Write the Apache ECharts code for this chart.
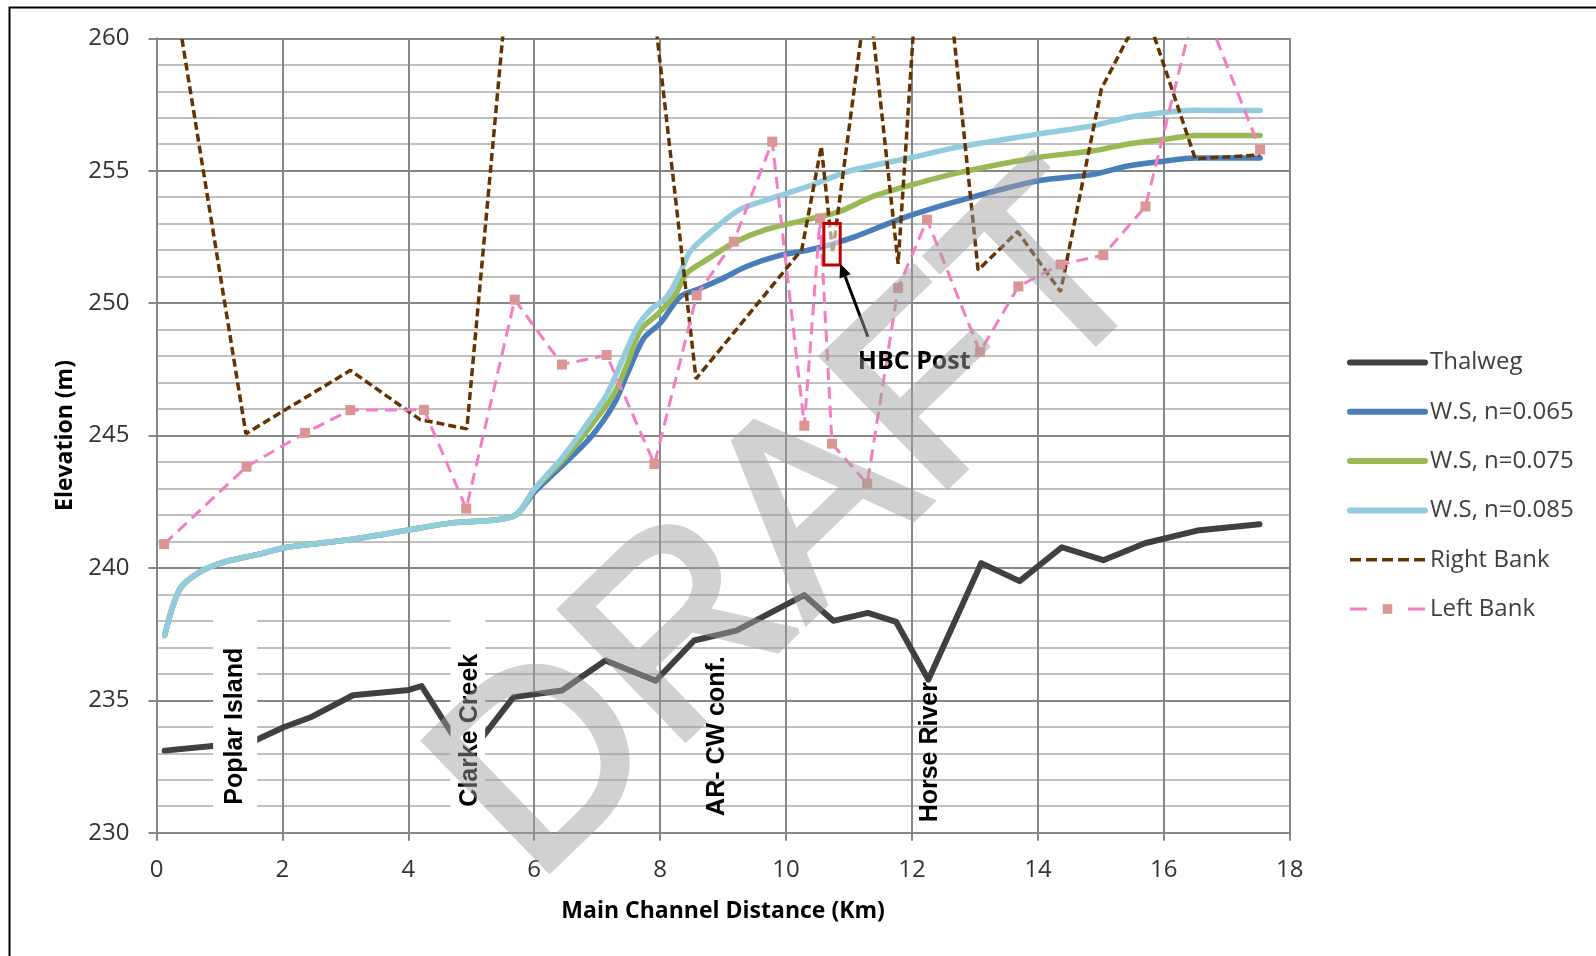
<!DOCTYPE html>
<html>
<head>
<meta charset="utf-8">
<title>Main channel profile</title>
<script src="https://cdn.jsdelivr.net/npm/echarts@6/dist/echarts.min.js"></script>
<style>
  html, body { margin: 0; padding: 0; background: #ffffff; }
  #chart { width: 1596px; height: 956px; }
  /* the watermark lives on its own canvas layer (zlevel 1) and is faded as a whole */
  #chart canvas[data-zr-dom-id="zr_1"] { opacity: 0.48; }
</style>
</head>
<body>
<div id="chart"></div>
<script>
// ---- Profile data: [distance along main channel (km), elevation (m)] ----
const thalweg = [
  [0.13, 233.10], [0.89, 233.27], [1.54, 233.45], [2.02, 233.98], [2.47, 234.38],
  [3.12, 235.19], [4.01, 235.39], [4.21, 235.54], [4.93, 232.85], [5.67, 235.12],
  [6.44, 235.37], [7.13, 236.50], [7.93, 235.74], [8.54, 237.26], [9.21, 237.63],
  [10.29, 238.97], [10.75, 238.00], [11.30, 238.30], [11.75, 237.96], [12.26, 235.78],
  [13.10, 240.18], [13.71, 239.50], [14.38, 240.78], [15.04, 240.29], [15.70, 240.93],
  [16.53, 241.41], [17.52, 241.65]
];

// Water surface profiles for three Manning's n values
const wsN065 = [
  [0.13, 237.45], [0.37, 239.20], [0.69, 239.85], [1.07, 240.22], [1.60, 240.50],
  [2.03, 240.76], [2.56, 240.92], [3.09, 241.07], [3.63, 241.28], [4.16, 241.50],
  [4.69, 241.70], [5.67, 241.95], [6.00, 242.85], [6.47, 243.92], [6.90, 244.94],
  [7.27, 246.20], [7.48, 247.34], [7.74, 248.67], [8.00, 249.24], [8.32, 250.25],
  [8.59, 250.51], [8.96, 250.89], [9.38, 251.39], [9.90, 251.80], [10.35, 252.00],
  [10.69, 252.20], [11.11, 252.52], [11.64, 253.02], [12.00, 253.33], [12.71, 253.84],
  [14.00, 254.62], [14.88, 254.86], [15.41, 255.17], [16.00, 255.36], [16.50, 255.48],
  [17.53, 255.48]
];
const wsN075 = [
  [0.13, 237.45], [0.37, 239.20], [0.69, 239.85], [1.07, 240.22], [1.60, 240.50],
  [2.03, 240.76], [2.56, 240.92], [3.09, 241.07], [3.63, 241.28], [4.16, 241.50],
  [4.69, 241.70], [5.67, 241.95], [6.00, 242.95], [6.47, 244.11], [6.84, 245.18],
  [7.27, 246.58], [7.48, 247.72], [7.69, 248.99], [7.95, 249.56], [8.22, 250.25],
  [8.43, 251.14], [8.75, 251.65], [9.17, 252.28], [9.69, 252.78], [10.35, 253.16],
  [10.85, 253.46], [11.38, 254.03], [12.00, 254.47], [12.71, 254.91], [14.00, 255.50],
  [14.88, 255.75], [15.41, 256.00], [16.00, 256.18], [16.50, 256.33], [17.53, 256.33]
];
const wsN085 = [
  [0.13, 237.45], [0.37, 239.20], [0.69, 239.85], [1.07, 240.22], [1.60, 240.50],
  [2.03, 240.76], [2.56, 240.92], [3.09, 241.07], [3.63, 241.28], [4.16, 241.50],
  [4.69, 241.70], [5.67, 241.95], [6.00, 242.97], [6.47, 244.24], [6.84, 245.44],
  [7.16, 246.58], [7.42, 247.97], [7.64, 249.11], [7.85, 249.75], [8.11, 250.25],
  [8.32, 251.14], [8.48, 251.96], [8.85, 252.78], [9.27, 253.54], [9.80, 253.98],
  [10.40, 254.45], [11.00, 254.98], [12.00, 255.50], [12.71, 255.88],
  [14.00, 256.38], [14.88, 256.70], [15.41, 257.00], [16.00, 257.20], [16.50, 257.28],
  [17.53, 257.27]
];

// Bank crests
const rightBank = [
  [0.13, 264.0], [1.42, 245.07], [3.08, 247.46], [4.19, 245.60], [4.93, 245.25],
  [5.67, 264.5], [7.85, 262.2], [8.57, 247.14], [10.25, 252.02], [10.56, 255.92],
  [10.74, 251.90], [11.30, 262.0], [11.78, 251.48], [12.27, 269.2], [13.05, 251.25],
  [13.68, 252.70], [14.36, 250.43], [15.01, 258.10], [15.69, 261.2], [16.50, 255.45],
  [17.53, 255.60]
];
const leftBank = [
  [0.12, 240.90], [1.43, 243.82], [2.36, 245.10], [3.08, 245.96], [4.25, 245.97],
  [4.92, 242.24], [5.69, 250.13], [6.44, 247.68], [7.15, 248.04], [7.91, 243.92],
  [8.58, 250.29], [9.17, 252.32], [9.78, 256.10], [10.29, 245.37], [10.54, 253.20],
  [10.73, 244.69], [11.29, 243.18], [11.78, 250.57], [12.24, 253.15], [13.08, 248.15],
  [13.69, 250.63], [14.36, 251.46], [15.04, 251.81], [15.71, 253.65], [16.55, 261.7],
  [17.53, 255.80]
];

const seriesNames = ['Thalweg', 'W.S, n=0.065', 'W.S, n=0.075', 'W.S, n=0.085', 'Right Bank', 'Left Bank'];

// Feature labels along the reach: text, [km, elevation] of the label centre
const placeNames = ['Poplar Island', 'Clarke Creek', 'AR- CW conf.', 'Horse River'];
const placeAnchors = [[1.25, 234.02], [4.985, 233.87], [8.91, 233.65], [12.29, 233.04]];
// White backing behind a label: [kmFrom, kmTo, elevFrom, elevTo] (null = none)
const placeBacks = [[0.90, 1.60, 230.55, 238.55], [4.67, 5.22, 230.55, 238.55], null, null];

// HBC Post callout
const postLabel = 'HBC Post';
const postTextAt = [11.14, 247.78];
const postArrowFrom = [11.30, 248.73];
const postArrowTo = [10.86, 251.50];
const postBox = [10.60, 10.86, 251.44, 253.01];

const FONT = "'Open Sans', 'Liberation Sans', sans-serif";
const LABEL_FONT = "'Liberation Sans', Arial, sans-serif";

const chart = echarts.init(document.getElementById('chart'), null, { renderer: 'canvas' });

const solid = (color, w) => ({ color: color, width: w, cap: 'round', join: 'round' });
const wsLine = { smooth: 0.3 };

chart.setOption({
  animation: false,
  backgroundColor: '#ffffff',
  grid: { left: 156.5, right: 306.3, top: 38.3, bottom: 123.3, containLabel: false },
  xAxis: {
    type: 'value', min: 0, max: 18, interval: 2,
    name: 'Main Channel Distance (Km)', nameLocation: 'middle', nameGap: 67,
    nameTextStyle: { fontFamily: FONT, fontWeight: 'bold', fontSize: 23, color: '#000000' },
    axisLine: { show: true, onZero: false, lineStyle: { color: '#868686', width: 2 } },
    axisTick: { show: true, length: 8, lineStyle: { color: '#868686', width: 2 } },
    axisLabel: { fontFamily: FONT, fontSize: 24, color: '#333333', margin: 25 },
    splitLine: { show: true, lineStyle: { color: '#868686', width: 2 } }
  },
  yAxis: {
    type: 'value', min: 230, max: 260, interval: 5,
    name: 'Elevation (m)', nameLocation: 'middle', nameGap: 79,
    nameTextStyle: { fontFamily: FONT, fontWeight: 'bold', fontSize: 23, color: '#000000' },
    axisLine: { show: true, lineStyle: { color: '#868686', width: 2 } },
    axisTick: { show: true, length: 8, lineStyle: { color: '#868686', width: 2 } },
    axisLabel: { fontFamily: FONT, fontSize: 24, color: '#333333', margin: 27 },
    splitLine: { show: true, lineStyle: { color: '#868686', width: 2 } },
    minorTick: { show: false, splitNumber: 5 },
    minorSplitLine: { show: true, lineStyle: { color: '#C0C0C0', width: 2 } }
  },
  legend: {
    orient: 'vertical', left: 1347, top: 350.5, padding: 0,
    itemWidth: 75, itemHeight: 12, itemGap: 25.3,
    textStyle: { fontFamily: FONT, fontSize: 24, color: '#404040', lineHeight: 24 },
    data: [
      { name: seriesNames[0], itemStyle: { opacity: 0 }, lineStyle: { width: 6 } },
      { name: seriesNames[1], itemStyle: { opacity: 0 }, lineStyle: { width: 6 } },
      { name: seriesNames[2], itemStyle: { opacity: 0 }, lineStyle: { width: 6 } },
      { name: seriesNames[3], itemStyle: { opacity: 0 }, lineStyle: { width: 6 } },
      { name: seriesNames[4], itemStyle: { opacity: 0 }, lineStyle: { width: 3.5, type: [11, 5] } },
      { name: seriesNames[5], lineStyle: { width: 3, type: [17, 41] } }
    ]
  },
  series: [
    { name: seriesNames[0], type: 'line', data: thalweg, symbol: 'none',
      lineStyle: solid('#404040', 6), itemStyle: { color: '#404040' } },
    Object.assign({ name: seriesNames[1], type: 'line', data: wsN065, symbol: 'none',
      lineStyle: solid('#4A7EBB', 5.5), itemStyle: { color: '#4A7EBB' } }, wsLine),
    Object.assign({ name: seriesNames[2], type: 'line', data: wsN075, symbol: 'none',
      lineStyle: solid('#98B954', 5.5), itemStyle: { color: '#98B954' } }, wsLine),
    Object.assign({ name: seriesNames[3], type: 'line', data: wsN085, symbol: 'none',
      lineStyle: solid('#93CDDD', 5.5), itemStyle: { color: '#93CDDD' } }, wsLine),
    { name: seriesNames[4], type: 'line', data: rightBank, symbol: 'none',
      lineStyle: { color: '#663300', width: 3.5, type: [8, 4] }, itemStyle: { color: '#663300' } },
    { name: seriesNames[5], type: 'line', data: leftBank, symbol: 'rect', symbolSize: 10, showSymbol: true,
      lineStyle: { color: '#F47DC3', width: 3, type: [12, 7] }, itemStyle: { color: '#D99694' } }
  ]
});

// ---- Annotations positioned through the chart's own coordinate system ----
const px = (p) => chart.convertToPixel({ gridIndex: 0 }, p);
const graphics = [];

// chart frame
graphics.push({ type: 'rect', z: 1, silent: true,
  shape: { x: 9.5, y: 7.5, width: 1700, height: 1100 },
  style: { fill: 'none', stroke: '#000000', lineWidth: 2 } });

placeNames.forEach((name, i) => {
  const back = placeBacks[i];
  if (back) {
    const a = px([back[0], back[3]]);
    const b = px([back[1], back[2]]);
    graphics.push({ type: 'rect', z: 50, silent: true,
      shape: { x: a[0], y: a[1], width: b[0] - a[0], height: b[1] - a[1] },
      style: { fill: '#ffffff' } });
  }
  const c = px(placeAnchors[i]);
  graphics.push({ type: 'text', z: 51, silent: true, x: c[0], y: c[1], rotation: Math.PI / 2,
    style: { text: name, fontFamily: LABEL_FONT, fontWeight: 'bold', fontSize: 25,
      fill: '#000000', align: 'center', verticalAlign: 'middle' } });
});

// HBC Post marker box, arrow and label
{
  const a = px([postBox[0], postBox[3]]);
  const b = px([postBox[1], postBox[2]]);
  graphics.push({ type: 'rect', z: 52, silent: true,
    shape: { x: a[0], y: a[1], width: b[0] - a[0], height: b[1] - a[1] },
    style: { fill: 'rgba(255,255,255,0.55)', stroke: '#C00000', lineWidth: 3 } });

  const t = px(postArrowFrom);
  const h = px(postArrowTo);
  const dx = h[0] - t[0], dy = h[1] - t[1];
  const len = Math.sqrt(dx * dx + dy * dy);
  const ux = dx / len, uy = dy / len;
  const headLen = 14, headHalf = 6;
  const bx = h[0] - ux * headLen, by = h[1] - uy * headLen;
  graphics.push({ type: 'line', z: 53, silent: true,
    shape: { x1: t[0], y1: t[1], x2: bx, y2: by },
    style: { stroke: '#000000', lineWidth: 3 } });
  graphics.push({ type: 'polygon', z: 53, silent: true,
    shape: { points: [[h[0], h[1]], [bx - uy * headHalf, by + ux * headHalf], [bx + uy * headHalf, by - ux * headHalf]] },
    style: { fill: '#000000' } });

  const p = px(postTextAt);
  graphics.push({ type: 'text', z: 53, silent: true, x: p[0], y: p[1],
    style: { text: postLabel, fontFamily: FONT, fontWeight: 'bold', fontSize: 25,
      fill: '#000000', align: 'left', verticalAlign: 'middle' } });
}

// DRAFT watermark across the plot, on its own layer
graphics.push({ type: 'text', zlevel: 1, z: 100, silent: true, x: 798, y: 530, rotation: 44 * Math.PI / 180,
  style: { text: 'DRAFT', fontFamily: LABEL_FONT, fontSize: 262,
    fill: '#A0A0A0', stroke: '#A0A0A0', lineWidth: 6, lineJoin: 'round',
    align: 'center', verticalAlign: 'middle' } });

chart.setOption({ graphic: graphics });
</script>
</body>
</html>
